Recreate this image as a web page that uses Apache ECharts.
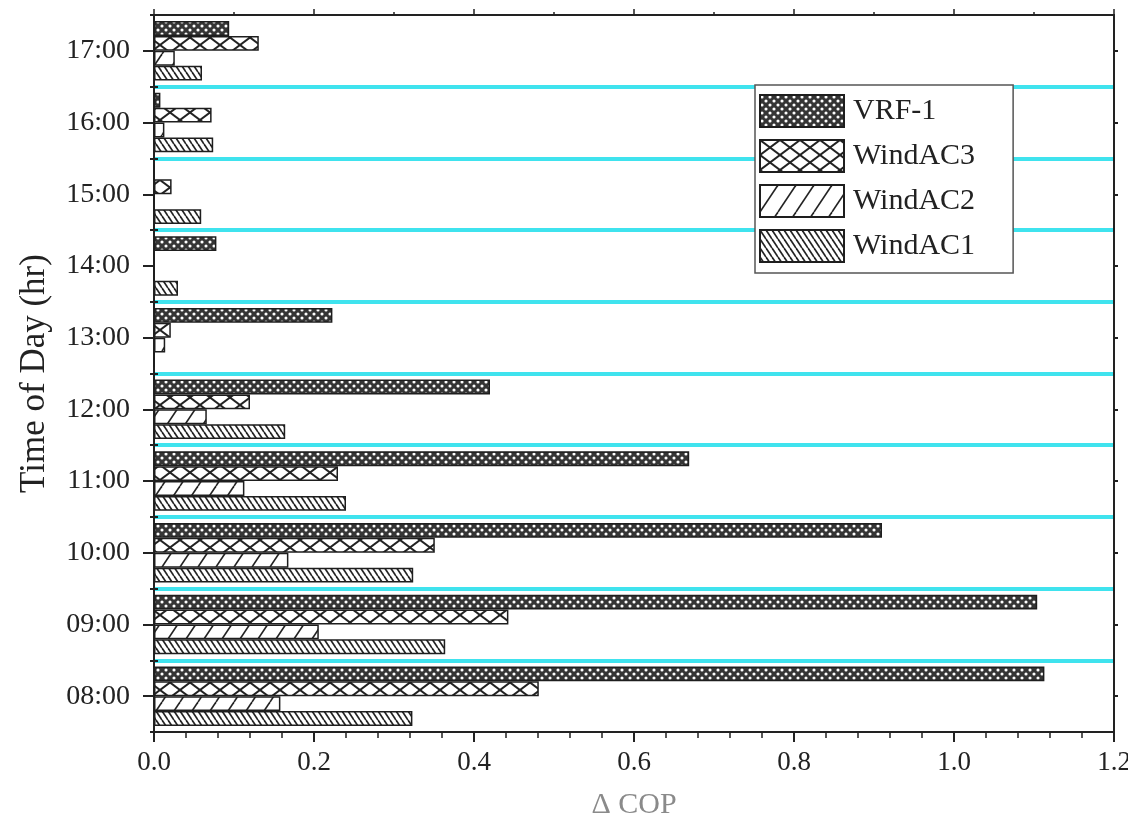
<!DOCTYPE html>
<html>
<head>
<meta charset="utf-8">
<script src="https://cdn.jsdelivr.net/npm/echarts@6/dist/echarts.min.js"></script>
<style>
html,body{margin:0;padding:0;background:#fff;}
#chart{width:1128px;height:816px;}
</style>
</head>
<body>
<div id="chart"></div>
<script>
// ---- data ----
const categories = ['08:00','09:00','10:00','11:00','12:00','13:00','14:00','15:00','16:00','17:00'];
const vrf1    = [1.113, 1.104, 0.910, 0.669, 0.420, 0.223, 0.078, 0,     0.008, 0.094];
const windAC3 = [0.481, 0.443, 0.351, 0.230, 0.120, 0.021, 0,     0.022, 0.072, 0.131];
const windAC2 = [0.158, 0.206, 0.168, 0.113, 0.066, 0.014, 0,     0,     0.013, 0.026];
const windAC1 = [0.323, 0.364, 0.324, 0.240, 0.164, 0,     0.030, 0.059, 0.074, 0.060];
const xTicks = [0, 0.2, 0.4, 0.6, 0.8, 1.0, 1.2];

// ---- hatch patterns ----
function tile(w, h, bg, draw) {
  const c = document.createElement('canvas');
  c.width = w; c.height = h;
  const ctx = c.getContext('2d');
  ctx.fillStyle = bg; ctx.fillRect(0, 0, w, h);
  draw(ctx, w, h);
  return { image: c, repeat: 'repeat' };
}
function fwd(ctx, w, h, lw) { // "/"
  ctx.strokeStyle = '#222'; ctx.lineWidth = lw;
  for (let k = -1; k <= 1; k++) {
    ctx.beginPath(); ctx.moveTo(k * w, h); ctx.lineTo(w + k * w, 0); ctx.stroke();
  }
}
function back(ctx, w, h, lw) { // "\"
  ctx.strokeStyle = '#222'; ctx.lineWidth = lw;
  for (let k = -1; k <= 1; k++) {
    ctx.beginPath(); ctx.moveTo(k * w, 0); ctx.lineTo(w + k * w, h); ctx.stroke();
  }
}
const patVRF = tile(8, 8, '#353535', (ctx) => {
  ctx.fillStyle = '#ffffff';
  [[2, 2], [6, 6], [-2, 6], [10, 6], [6, -2], [6, 10], [-2, -2], [10, 10], [-2, 10], [10, -2]].forEach(p => {
    ctx.beginPath(); ctx.arc(p[0], p[1], 1.55, 0, Math.PI * 2); ctx.fill();
  });
});
const patAC3 = tile(20, 15, '#ffffff', (ctx, w, h) => { fwd(ctx, w, h, 2); back(ctx, w, h, 2); });
const patAC2 = tile(18, 27, '#ffffff', (ctx, w, h) => { fwd(ctx, w, h, 1.6); });
const patAC1 = tile(6, 9, '#ffffff', (ctx, w, h) => { back(ctx, w, h, 1.7); });

const FONT = '"Liberation Serif", "DejaVu Serif", serif';
const dark = '#222';
const CYAN = '#3fe3ee';
const NONE = 'rgba(0,0,0,0)';
const splitColors = [NONE].concat(categories.slice(1).map(() => CYAN), [NONE]);
const borderStyle = { borderColor: '#1e1e1e', borderWidth: 1.5 };

function barSeries(name, data, pat) {
  return {
    name: name, type: 'bar', data: data,
    xAxisIndex: 0, yAxisIndex: 0,
    barGap: '0%', barCategoryGap: '17%',
    itemStyle: Object.assign({ color: pat }, borderStyle),
    emphasis: { disabled: true },
    animation: false
  };
}

const chart = echarts.init(document.getElementById('chart'), null, { renderer: 'canvas' });
chart.setOption({
  backgroundColor: '#ffffff',
  animation: false,
  grid: { left: 154, right: 14, top: 15, bottom: 84, containLabel: false, outerBoundsMode: 'none' },
  legend: {
    data: ['VRF-1', 'WindAC3', 'WindAC2', 'WindAC1'],
    orient: 'vertical',
    left: 755, top: 85,
    padding: [9, 38, 10, 4],
    itemWidth: 84, itemHeight: 32, itemGap: 11,
    icon: 'rect',
    backgroundColor: '#ffffff',
    borderColor: '#555', borderWidth: 1.5, borderRadius: 0,
    textStyle: { fontFamily: FONT, fontSize: 30, color: dark, padding: [0, 0, 0, 4] },
    selectedMode: false,
    z: 10
  },
  xAxis: [
    {
      type: 'value', position: 'bottom', min: 0, max: 1.2, interval: 0.2, z: 5,
      axisLine: { show: true, lineStyle: { color: '#222', width: 2 } },
      axisTick: { show: true, inside: false, length: 10, lineStyle: { color: '#222', width: 2 } },
      minorTick: { show: true, splitNumber: 5, length: 6, lineStyle: { color: '#222', width: 1.5 } },
      splitLine: { show: false },
      axisLabel: {
        show: true, margin: 17, fontFamily: FONT, fontSize: 27, color: dark,
        formatter: v => (xTicks.some(t => Math.abs(t - v) < 1e-9) ? v.toFixed(1) : '')
      },
      name: 'Δ COP', nameLocation: 'middle', nameGap: 58,
      nameTextStyle: { fontFamily: FONT, fontSize: 30, color: '#8a8a8a' }
    },
    {
      type: 'value', position: 'top', min: 0, max: 1.2, interval: 0.2, z: 5,
      axisLine: { show: true, lineStyle: { color: '#222', width: 2 } },
      axisTick: { show: true, inside: false, length: 6, lineStyle: { color: '#222', width: 1.5 } },
      minorTick: { show: true, splitNumber: 2, length: 3, lineStyle: { color: '#222', width: 1.5 } },
      splitLine: { show: false },
      axisLabel: { show: false }
    }
  ],
  yAxis: [
    {
      type: 'category', data: categories, position: 'left', boundaryGap: true, z: 1,
      axisLine: { show: true, onZero: false, lineStyle: { color: '#222', width: 2 } },
      axisTick: { show: true, alignWithLabel: true, inside: false, length: 11, lineStyle: { color: '#222', width: 2 } },
      axisLabel: { show: true, margin: 24, fontFamily: FONT, fontSize: 28, color: dark },
      splitLine: { show: true, lineStyle: { color: splitColors, width: 4 } },
      name: 'Time of Day (hr)', nameLocation: 'middle', nameGap: 102, nameRotate: 90,
      nameTextStyle: { fontFamily: FONT, fontSize: 35, color: dark }
    },
    {
      type: 'category', data: categories, position: 'left', boundaryGap: true, z: 5,
      axisLine: { show: false },
      axisTick: { show: true, alignWithLabel: false, inside: false, length: 4, lineStyle: { color: '#222', width: 2 } },
      axisLabel: { show: false }, splitLine: { show: false }
    },
    {
      type: 'category', data: categories, position: 'right', boundaryGap: true, z: 5,
      axisLine: { show: true, onZero: false, lineStyle: { color: '#222', width: 2 } },
      axisTick: { show: true, alignWithLabel: true, inside: false, length: 4, lineStyle: { color: '#222', width: 2 } },
      axisLabel: { show: false }, splitLine: { show: false }
    },
    {
      type: 'category', data: categories, position: 'right', boundaryGap: true, z: 5,
      axisLine: { show: false },
      axisTick: { show: true, alignWithLabel: false, inside: false, length: 4, lineStyle: { color: '#222', width: 2 } },
      axisLabel: { show: false }, splitLine: { show: false }
    }
  ],
  series: [
    barSeries('VRF-1', vrf1, patVRF),
    barSeries('WindAC3', windAC3, patAC3),
    barSeries('WindAC2', windAC2, patAC2),
    barSeries('WindAC1', windAC1, patAC1)
  ]
});
</script>
</body>
</html>
